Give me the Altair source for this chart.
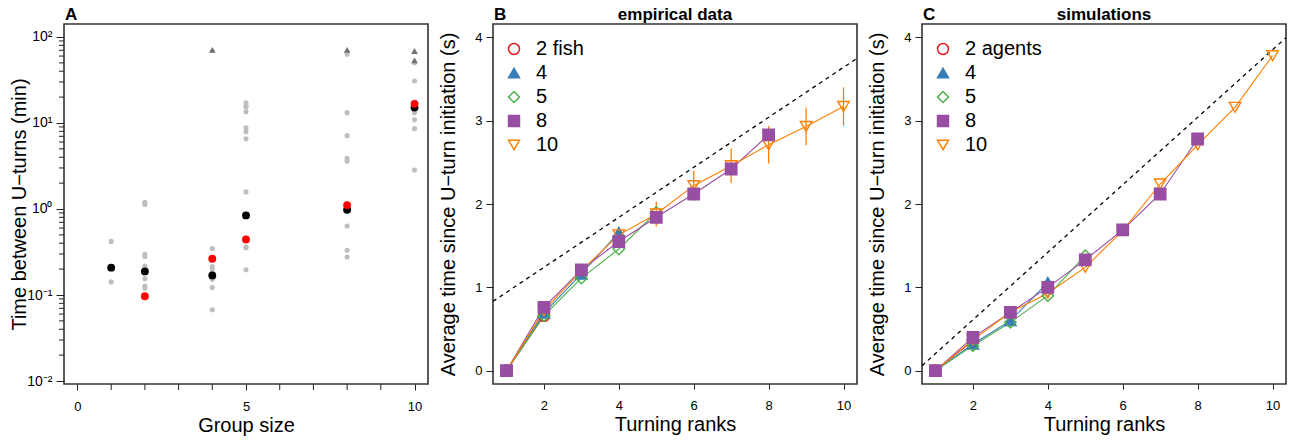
import altair as alt
import pandas as pd

FONT = "Liberation Sans"

# ---------------- Panel A: time between U-turns per group size ----------------
a_group = [1, 2, 4, 5, 8, 10]
# individual trials (grey dots)
a_trials = [
    [0.42, 0.142],
    [1.2, 1.13, 0.297, 0.28, 0.217, 0.155, 0.127, 0.12],
    [0.346, 0.214, 0.20, 0.18, 0.152, 0.122, 0.0675],
    [17.2, 16.2, 15.3, 13.5, 8.8, 7.9, 6.56, 1.58, 0.36, 0.355, 0.197],
    [63.0, 13.2, 7.13, 3.88, 3.6, 0.634, 0.331, 0.277],
    [50.2, 30.8, 17.5, 14.0, 13.2, 10.9, 8.6, 2.84],
]
a_median = [0.208, 0.188, 0.169, 0.843, 0.98, 15.1]
a_mean_group = [2, 4, 5, 8, 10]
a_mean = [0.0966, 0.264, 0.443, 1.11, 16.7]
# trials without U-turn before the end of the recording
a_cens_group = [4, 8, 10, 10]
a_cens = [70.7, 70.7, 68.7, 53.5]

a_xticks_major = [0, 5, 10]
a_xticks_minor = [1, 2, 3, 4, 6, 7, 8, 9]
a_ticks_major = [0.01, 0.1, 1, 10, 100]
a_ticks_minor = [k * 10.0 ** e for e in range(-2, 2) for k in range(2, 10)]

# ---------------- Panels B and C: time since U-turn initiation ----------------
series_colors = ["#E41A1C", "#377EB8", "#4DAF4A", "#984EA3", "#FF7F00"]
series_fills = ["transparent", "#377EB8", "transparent", "#984EA3", "transparent"]
series_shapes = ["circle", "triangle-up", "diamond", "square", "triangle-down"]

b_labels = ["2 fish", "4", "5", "8", "10"]
b_means = [
    [0, 0.66],
    [0, 0.69, 1.16, 1.66],
    [0, 0.66, 1.11, 1.46, 1.90],
    [0, 0.76, 1.21, 1.55, 1.84, 2.12, 2.42, 2.83],
    [0, 0.72, 1.20, 1.63, 1.88, 2.22, 2.46, 2.71, 2.93, 3.17],
]
b_err10 = [0, 0.04, 0.06, 0.06, 0.15, 0.18, 0.205, 0.225, 0.225, 0.23]
b_ref = (0.64, 0.30)  # intercept, slope of the dashed reference

c_labels = ["2 agents", "4", "5", "8", "10"]
c_means = [
    [0, 0.36],
    [0, 0.32, 0.60, 1.06],
    [0, 0.30, 0.58, 0.90, 1.38],
    [0, 0.40, 0.70, 1.00, 1.33, 1.69, 2.12, 2.78],
    [0, 0.37, 0.70, 0.93, 1.24, 1.68, 2.24, 2.71, 3.16, 3.78],
]
c_ref = (-0.20, 0.405)

RANK_DOMAIN = [0.64, 10.36]
TIME_DOMAIN = [-0.16, 4.16]
W, H = 364, 360


def letter(txt):
    return alt.Chart(pd.DataFrame({"t": [txt]})).mark_text(
        align="left", baseline="alphabetic", font=FONT, fontSize=17,
        fontWeight="bold", color="black"
    ).encode(text="t:N", x=alt.value(1), y=alt.value(-4))


def header(txt):
    return alt.Chart(pd.DataFrame({"t": [txt]})).mark_text(
        align="center", baseline="alphabetic", font=FONT, fontSize=17,
        fontWeight="bold", color="black"
    ).encode(text="t:N", x=alt.value(W / 2), y=alt.value(-4))


# ---- panel A
rows = []
for g, vals in zip(a_group, a_trials):
    for v in vals:
        rows.append({"size": g, "t": v})
df_trials = pd.DataFrame(rows)
df_median = pd.DataFrame({"size": a_group, "t": a_median})
df_mean = pd.DataFrame({"size": a_mean_group, "t": a_mean})
df_cens = pd.DataFrame({"size": a_cens_group, "t": a_cens})
df_minor = pd.DataFrame({"t": a_ticks_minor})
df_xminor = pd.DataFrame({"size": a_xticks_minor})

a_xscale = alt.Scale(domain=[-0.4, 10.4], nice=False, zero=False)
a_yscale = alt.Scale(type="log", domain=[0.00923, 141.6], nice=False)
sup = ("datum.value < 0.05 ? '10\u207b\u00b2' : datum.value < 0.5 ? '10\u207b\u00b9' : "
       "datum.value < 5 ? '10\u2070' : datum.value < 50 ? '10\u00b9' : '10\u00b2'")

a_x = alt.X("size:Q", scale=a_xscale, title="Group size",
            axis=alt.Axis(values=a_xticks_major, tickSize=6, labelPadding=10,
                          labelOverlap=False, titlePadding=2))
a_y = alt.Y("t:Q", scale=a_yscale, title="Time between U\u2212turns (min)",
            axis=alt.Axis(values=a_ticks_major, labelExpr=sup, tickSize=8,
                          labelOverlap=False, labelFontSize=14,
                          labelPadding=4, titlePadding=-3))

a_gray = alt.Chart(df_trials).mark_circle(size=26, color="#BEBEBE", opacity=1).encode(x=a_x, y=a_y)
a_cens_m = alt.Chart(df_cens).mark_point(shape="triangle-up", filled=True, size=45,
                                         color="#707070", opacity=1).encode(x="size:Q", y="t:Q")
a_med = alt.Chart(df_median).mark_circle(size=62, color="black", opacity=1).encode(x="size:Q", y="t:Q")
a_mn = alt.Chart(df_mean).mark_circle(size=62, color="#FF0000", opacity=1).encode(x="size:Q", y="t:Q")
# unlabelled minor ticks on both axes
a_minor = alt.Chart(df_minor).mark_rule(color="#222", strokeWidth=1).encode(
    y="t:Q", x=alt.value(-5), x2=alt.value(0))
a_xminor = alt.Chart(df_xminor).mark_rule(color="#222", strokeWidth=1).encode(
    x="size:Q", y=alt.value(H), y2=alt.value(H + 6))

panel_a = alt.layer(a_gray, a_minor, a_xminor, a_cens_m, a_med, a_mn, letter("A")).properties(
    width=W, height=H)


# ---- panels B and C
def rank_panel(labels, means, ref, letter_txt, head, err10=None):
    rows = []
    for si, (lab, vals) in enumerate(zip(labels, means)):
        for r, v in enumerate(vals, start=1):
            e = err10[r - 1] if (err10 is not None and si == 4) else 0.0
            rows.append({"series": lab, "rank": r, "t": v, "lo": v - e, "hi": v + e,
                         "z": [0, 1, 2, 4, 3][si]})
    df = pd.DataFrame(rows)
    df_pts = df.sort_values(["z", "rank"])

    xs = alt.Scale(domain=RANK_DOMAIN, nice=False, zero=False)
    ys = alt.Scale(domain=TIME_DOMAIN, nice=False, zero=False)
    x = alt.X("rank:Q", scale=xs, title="Turning ranks",
              axis=alt.Axis(values=[2, 4, 6, 8, 10], tickSize=5, labelPadding=10, titlePadding=2))
    y = alt.Y("t:Q", scale=ys, title="Average time since U\u2212turn initiation (s)",
              axis=alt.Axis(values=[0, 1, 2, 3, 4], format=".0f", tickSize=7,
                            labelPadding=4, titlePadding=16))

    leg = alt.Legend(title=None, orient="none", legendX=11, legendY=15,
                     labelFont=FONT, labelFontSize=20, labelColor="black",
                     symbolSize=120, symbolStrokeWidth=1.5, rowPadding=4,
                     labelOffset=12, padding=0)
    stroke = alt.Stroke("series:N", scale=alt.Scale(domain=labels, range=series_colors), legend=leg)
    shape = alt.Shape("series:N", scale=alt.Scale(domain=labels, range=series_shapes), legend=leg)
    fill = alt.Fill("series:N", scale=alt.Scale(domain=labels, range=series_fills), legend=leg)

    ref_df = pd.DataFrame({"rank": RANK_DOMAIN,
                           "t": [ref[0] + ref[1] * r for r in RANK_DOMAIN]})
    ref_line = alt.Chart(ref_df).mark_line(color="black", strokeWidth=1.3,
                                           strokeDash=[4, 4]).encode(x=x, y=y)
    lines = alt.Chart(df).mark_line(strokeWidth=1.1).encode(
        x="rank:Q", y="t:Q", stroke=stroke, detail="series:N")
    errs = alt.Chart(df[df["hi"] > df["lo"]]).mark_rule(strokeWidth=1.3).encode(
        x="rank:Q", y="lo:Q", y2="hi:Q", stroke=stroke)
    pts = alt.Chart(df_pts).mark_point(size=130, strokeWidth=1.4, opacity=1).encode(
        x="rank:Q", y="t:Q", shape=shape, stroke=stroke, fill=fill,
        order=alt.Order("z:Q"),
    )
    return alt.layer(ref_line, lines, errs, pts, letter(letter_txt), header(head)).properties(
        width=W, height=H)


panel_b = rank_panel(b_labels, b_means, b_ref, "B", "empirical data", b_err10)
panel_c = rank_panel(c_labels, c_means, c_ref, "C", "simulations")

chart = alt.hconcat(panel_a, panel_b, panel_c, spacing=65).properties(
    bounds="flush", background="white",
    padding={"left": 8, "top": 5, "right": 5, "bottom": 5}
).resolve_scale(
    x="independent", y="independent",
    shape="independent", stroke="independent", fill="independent"
).resolve_legend(
    shape="independent", stroke="independent", fill="independent"
).configure_view(
    stroke="#333", strokeWidth=1.6
).configure_axis(
    grid=False, domain=False, labelFont=FONT, titleFont=FONT, labelFontSize=13,
    titleFontSize=20, titleFontWeight="normal", labelColor="black", titleColor="black",
    tickColor="#222", tickWidth=1
)

chart.save("out.html", embed_options={"renderer": "svg", "actions": False})
